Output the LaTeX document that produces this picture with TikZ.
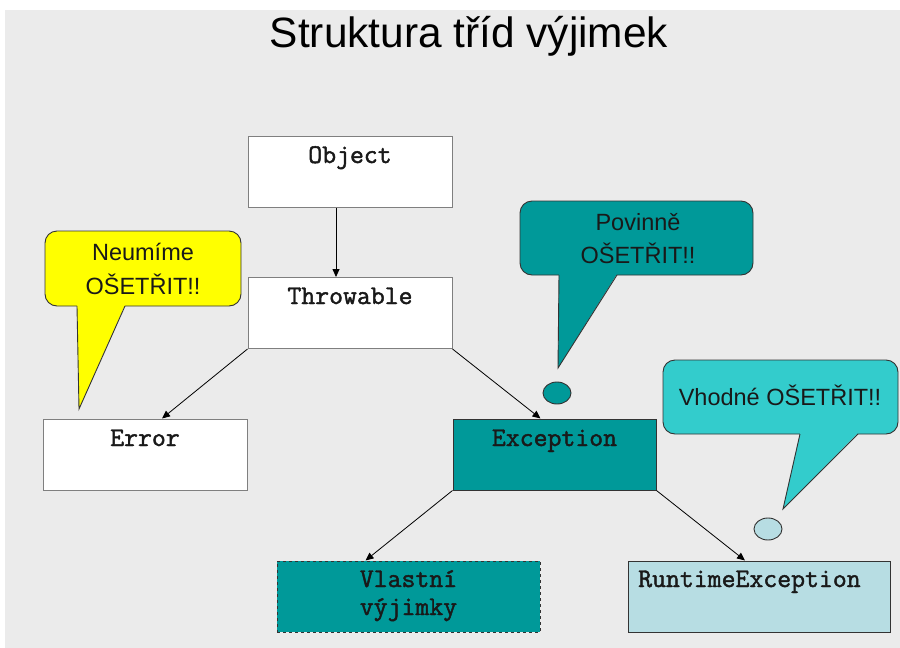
\documentclass[tikz,border=0pt]{standalone}
\usepackage{fontspec}
\setmainfont{Liberation Sans}
\newfontfamily\codefont{Latin Modern Mono}[FakeBold=1.6]
\usetikzlibrary{arrows.meta,shapes.geometric}

\definecolor{paper}{HTML}{EBEBEB}
\definecolor{tealbox}{HTML}{009999}
\definecolor{cyanbox}{HTML}{33CCCC}
\definecolor{paleblue}{HTML}{B7DDE3}
\definecolor{calloutyellow}{HTML}{FFFF00}
\definecolor{frame}{HTML}{7F7F7F}
\definecolor{darkframe}{HTML}{333333}

\begin{document}
\begin{tikzpicture}[x=1pt,y=-1pt,
  classbox/.style={draw=frame, line width=1pt, fill=white, inner sep=0pt,
    minimum width=204pt, minimum height=71pt},
  classname/.style={anchor=base, inner sep=0pt, text=black!90, font=\codefont\fontsize{27}{32}\selectfont},
  bubbletext/.style={anchor=base, inner sep=0pt, text=black!90, font=\fontsize{23.5}{28}\selectfont},
  bubble/.style={draw=darkframe, line width=0.9pt, rounded corners=12pt},
  tailedge/.style={draw=darkframe, line width=0.9pt, line join=miter},
  dot/.style={ellipse, draw=darkframe, line width=0.9pt, inner sep=0pt,
    minimum width=28pt, minimum height=22pt},
  inherit/.style={draw=black, line width=0.8pt, -{Triangle[length=8pt,width=7pt]}}
]
\useasboundingbox (0,0) rectangle (900,648);
\fill[white] (0,0) rectangle (900,648);
\fill[paper] (5,10) rectangle (900,648);

% heading
\node[anchor=base, inner sep=0pt, font=\fontsize{42.4}{50}\selectfont] (title) at (469,47) {Struktura tříd výjimek};

% class boxes
\node[classbox] (object) at (350,172) {};
\node[classbox] (throwable) at (350,313) {};
\node[classbox] (error) at (145,454.5) {};
\node[classbox, fill=tealbox, draw=darkframe, minimum width=203pt] (exception) at (554.5,454.5) {};
\node[classbox, fill=tealbox, draw=darkframe, dashed, minimum width=263pt] (own) at (408.5,596.5) {};
\node[classbox, fill=paleblue, draw=darkframe, minimum width=262pt] (runtime) at (759,596.5) {};

\node[classname] (object-t) at (350,163) {Object};
\node[classname] (throwable-t) at (350,304) {Throwable};
\node[classname] (error-t) at (145,446) {Error};
\node[classname] (exception-t) at (554.5,446) {Exception};
\node[classname] (own-t1) at (408.5,587) {Vlastní};
\node[classname] (own-t2) at (408.5,615) {výjimky};
\node[classname, anchor=base west] (runtime-t) at (638,587) {RuntimeException};

% inheritance arrows
\draw[inherit] ([xshift=-14pt]object.south) -- ([xshift=-14pt]throwable.north);
\draw[inherit] (throwable.south west) -- ([xshift=17pt]error.north);
\draw[inherit] (throwable.south east) -- ([xshift=-14pt]exception.north);
\draw[inherit] (exception.south west) -- ([xshift=-43pt]own.north);
\draw[inherit] (exception.south east) -- ([xshift=-14pt]runtime.north);

% callout: errors
\draw[bubble, fill=calloutyellow] (45,231) rectangle (241,306);
\coordinate (tipA) at (79,409);
\fill[calloutyellow] (77,305) -- (tipA) -- (125,305) -- cycle;
\draw[tailedge] (77,306) -- (tipA) -- (125,306);
\node[bubbletext] (errnote1) at (143,260) {Neumíme};
\node[bubbletext] (errnote2) at (143,294) {OŠETŘIT!!};

% callout: checked exceptions
\draw[bubble, fill=tealbox] (520,201) rectangle (753,275);
\node[dot, fill=tealbox] (dotB) at (557,393) {};
\coordinate (tipB) at (558,368);
\fill[tealbox] (559,274) -- (tipB) -- (617,274) -- cycle;
\draw[tailedge] (559,275) -- (tipB) -- (617,275);
\node[bubbletext] (chknote1) at (638,230) {Povinně};
\node[bubbletext] (chknote2) at (638,263) {OŠETŘIT!!};

% callout: runtime exceptions
\draw[bubble, fill=cyanbox] (663,360) rectangle (898,434);
\node[dot, fill=paleblue] (dotC) at (768,529) {};
\coordinate (tipC) at (783,509);
\fill[cyanbox] (800,433) -- (tipC) -- (858,433) -- cycle;
\draw[tailedge] (800,434) -- (tipC) -- (858,434);
\node[bubbletext] (rtnote) at (780,405) {Vhodné OŠETŘIT!!};
\end{tikzpicture}
\end{document}
